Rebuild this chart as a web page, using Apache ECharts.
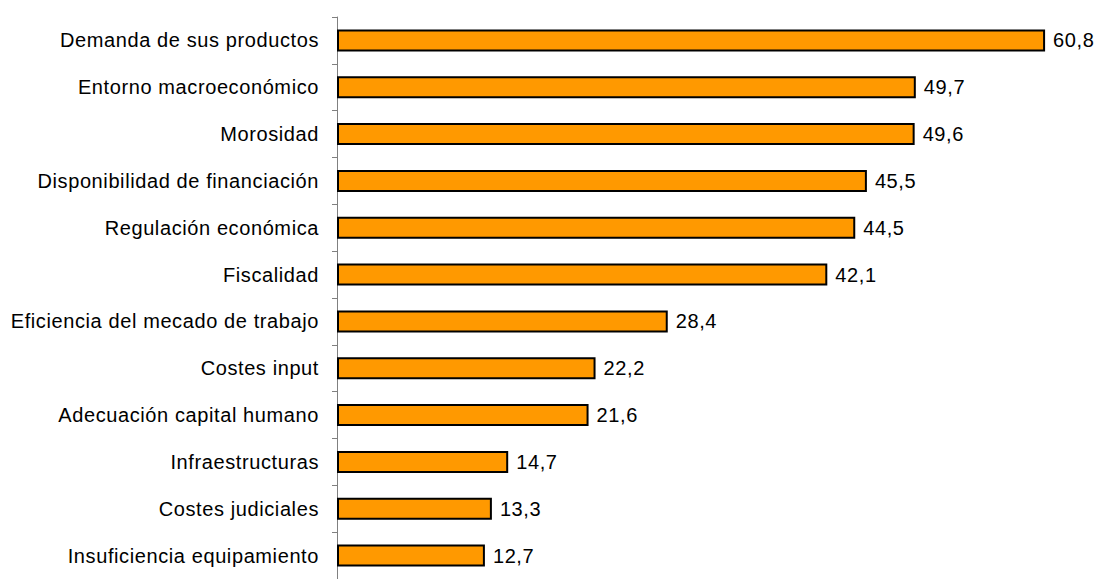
<!DOCTYPE html>
<html><head><meta charset="utf-8">
<script src="https://cdn.jsdelivr.net/npm/echarts@6/dist/echarts.min.js"></script>
<style>html,body{margin:0;padding:0;background:#fff}#c{width:1096px;height:579px}#c text{letter-spacing:0.6px}</style>
</head><body><div id="c"></div>
<script>
const categories = ["Demanda de sus productos","Entorno macroeconómico","Morosidad","Disponibilidad de financiación","Regulación económica","Fiscalidad","Eficiencia del mecado de trabajo","Costes input","Adecuación capital humano","Infraestructuras","Costes judiciales","Insuficiencia equipamiento"];
const values = [60.8,49.7,49.6,45.5,44.5,42.1,28.4,22.2,21.6,14.7,13.3,12.7];
const chart = echarts.init(document.getElementById('c'), null, {renderer:'svg'});
chart.setOption({
  animation:false,
  grid:{left:337, top:17, width:757, height:569, containLabel:false},
  xAxis:{type:'value', min:0, max:65, show:false},
  yAxis:{type:'category', data:categories, inverse:true,
    axisLine:{show:true, lineStyle:{color:'#808080', width:1}},
    axisTick:{show:true, length:5, lineStyle:{color:'#808080'}},
    axisLabel:{color:'#000', fontFamily:'Liberation Sans, Arial', fontSize:20, margin:18},
    splitLine:{show:false}},
  series:[{type:'bar', data:values, barWidth:22,
    itemStyle:{color:'#FF9900', borderColor:'#000', borderWidth:2},
    label:{show:true, position:'right', distance:8, color:'#000', fontFamily:'Liberation Sans, Arial', fontSize:20,
      formatter:p=>p.value.toFixed(1).replace('.',',')}}]
});
</script></body></html>
